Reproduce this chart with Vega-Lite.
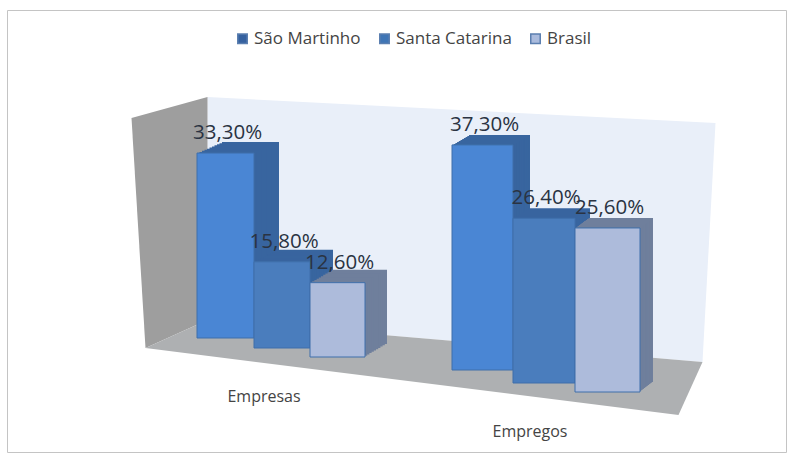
{
"$schema":"https://vega.github.io/schema/vega-lite/v6.json",
"width":779,"height":442,"autosize":"none",
"padding":{"left":7,"top":10,"right":24,"bottom":23},
"background":"white",
"view":{"stroke":"#c4c4c4","strokeWidth":1,"fill":"white"},
"params":[
{"name":"topo","value":[11.5,17,19,27,36,41]},
{"name":"fx","value":[-1,-3.5,-7,20,22.5,27]},
{"name":"larg","value":[57,56,55,61,62,65]},
{"name":"base","value":[0,10,19,32,45,54]},
{"name":"dx","value":[25,23,22,17,15,13]},
{"name":"dy","value":[11,12,13,10,10,10]},
{"name":"frente","value":["#4a86d4","#4a7dbd","#adbbdb","#4a86d4","#4a7dbd","#adbbdb"]},
{"name":"lado","value":["#38659f","#38659f","#6f7f9c","#38659f","#38659f","#6f7f9c"]}
],
"datasets":{"barras":[
{"id":0,"categoria":"Empresas","serie":"São Martinho","valor":33.3,"rotulo":"33,30%"},
{"id":1,"categoria":"Empresas","serie":"Santa Catarina","valor":15.8,"rotulo":"15,80%"},
{"id":2,"categoria":"Empresas","serie":"Brasil","valor":12.6,"rotulo":"12,60%"},
{"id":3,"categoria":"Empregos","serie":"São Martinho","valor":37.3,"rotulo":"37,30%"},
{"id":4,"categoria":"Empregos","serie":"Santa Catarina","valor":26.4,"rotulo":"26,40%"},
{"id":5,"categoria":"Empregos","serie":"Brasil","valor":25.6,"rotulo":"25,60%"}
]},
"data":{"name":"barras"},
"layer":[
{"data":{"values":[{"parte":"parede"}]},"mark":{"type":"point","filled":true,"opacity":1,"size":40000,"fill":"#e9eff9","shape":"M-.19 -2.41 L4.89 -2.15 L4.76 .24 L-.19 -.18 Z"},"encoding":{"x":{"datum":0,"type":"nominal","axis":null,"scale":{"domain":[0,1,2,"a",3,4,5],"range":[190,603],"paddingInner":0,"paddingOuter":0}},"y":{"datum":0,"type":"quantitative","axis":null,"scale":{"domain":[0,50],"range":[328,33],"nice":false,"zero":false}}}},
{"data":{"values":[{"parte":"lateral"}]},"mark":{"type":"point","filled":true,"opacity":1,"size":40000,"fill":"#9e9e9e","shape":"M-.95 -2.2 L-.19 -2.41 L-.19 -.18 L-.81 .1 Z"},"encoding":{"x":{"datum":0,"type":"nominal"},"y":{"datum":0,"type":"quantitative"}}},
{"data":{"values":[{"parte":"piso"}]},"mark":{"type":"point","filled":true,"opacity":1,"size":40000,"fill":"#aeb0b2","shape":"M-.81 .1 L-.19 -.18 L4.76 .24 L4.52 .77 Z"},"encoding":{"x":{"datum":0,"type":"nominal"},"y":{"datum":0,"type":"quantitative"}}},
{"encoding":{"x":{"field":"id","type":"nominal"},"y":{"field":"valor","type":"quantitative"},"y2":{"datum":0}},
"layer":[
{"mark":{"type":"bar","width":{"expr":"larg[datum.id]"},"fill":{"expr":"lado[datum.id]"},"yOffset":{"expr":"topo[datum.id]-dy[datum.id]"},"y2Offset":{"expr":"base[datum.id]-dy[datum.id]"},"xOffset":{"expr":"fx[datum.id]+dx[datum.id]"}}},
{"mark":{"type":"bar","width":{"expr":"larg[datum.id]"},"fill":{"expr":"lado[datum.id]"},"yOffset":{"expr":"topo[datum.id]-0.9*dy[datum.id]"},"y2Offset":{"expr":"base[datum.id]-0.9*dy[datum.id]"},"xOffset":{"expr":"fx[datum.id]+0.9*dx[datum.id]"}}},
{"mark":{"type":"bar","width":{"expr":"larg[datum.id]"},"fill":{"expr":"lado[datum.id]"},"yOffset":{"expr":"topo[datum.id]-0.8*dy[datum.id]"},"y2Offset":{"expr":"base[datum.id]-0.8*dy[datum.id]"},"xOffset":{"expr":"fx[datum.id]+0.8*dx[datum.id]"}}},
{"mark":{"type":"bar","width":{"expr":"larg[datum.id]"},"fill":{"expr":"lado[datum.id]"},"yOffset":{"expr":"topo[datum.id]-0.7*dy[datum.id]"},"y2Offset":{"expr":"base[datum.id]-0.7*dy[datum.id]"},"xOffset":{"expr":"fx[datum.id]+0.7*dx[datum.id]"}}},
{"mark":{"type":"bar","width":{"expr":"larg[datum.id]"},"fill":{"expr":"lado[datum.id]"},"yOffset":{"expr":"topo[datum.id]-0.6*dy[datum.id]"},"y2Offset":{"expr":"base[datum.id]-0.6*dy[datum.id]"},"xOffset":{"expr":"fx[datum.id]+0.6*dx[datum.id]"}}},
{"mark":{"type":"bar","width":{"expr":"larg[datum.id]"},"fill":{"expr":"lado[datum.id]"},"yOffset":{"expr":"topo[datum.id]-0.5*dy[datum.id]"},"y2Offset":{"expr":"base[datum.id]-0.5*dy[datum.id]"},"xOffset":{"expr":"fx[datum.id]+0.5*dx[datum.id]"}}},
{"mark":{"type":"bar","width":{"expr":"larg[datum.id]"},"fill":{"expr":"lado[datum.id]"},"yOffset":{"expr":"topo[datum.id]-0.4*dy[datum.id]"},"y2Offset":{"expr":"base[datum.id]-0.4*dy[datum.id]"},"xOffset":{"expr":"fx[datum.id]+0.4*dx[datum.id]"}}},
{"mark":{"type":"bar","width":{"expr":"larg[datum.id]"},"fill":{"expr":"lado[datum.id]"},"yOffset":{"expr":"topo[datum.id]-0.3*dy[datum.id]"},"y2Offset":{"expr":"base[datum.id]-0.3*dy[datum.id]"},"xOffset":{"expr":"fx[datum.id]+0.3*dx[datum.id]"}}},
{"mark":{"type":"bar","width":{"expr":"larg[datum.id]"},"fill":{"expr":"lado[datum.id]"},"yOffset":{"expr":"topo[datum.id]-0.2*dy[datum.id]"},"y2Offset":{"expr":"base[datum.id]-0.2*dy[datum.id]"},"xOffset":{"expr":"fx[datum.id]+0.2*dx[datum.id]"}}},
{"mark":{"type":"bar","width":{"expr":"larg[datum.id]"},"fill":{"expr":"lado[datum.id]"},"yOffset":{"expr":"topo[datum.id]-0.1*dy[datum.id]"},"y2Offset":{"expr":"base[datum.id]-0.1*dy[datum.id]"},"xOffset":{"expr":"fx[datum.id]+0.1*dx[datum.id]"}}},
{"mark":{"type":"bar","width":{"expr":"larg[datum.id]"},"yOffset":{"expr":"topo[datum.id]"},"y2Offset":{"expr":"base[datum.id]"},"xOffset":{"expr":"fx[datum.id]"}},"encoding":{"color":{"field":"serie","type":"nominal","scale":{"domain":["São Martinho","Santa Catarina","Brasil"],"range":["#35619f","#3f75b5","#aabbdd"]},"legend":{"orient":"none","legendX":227,"legendY":20,"direction":"horizontal","title":null,"symbolType":"square","symbolSize":90,"symbolOpacity":1,"labelFont":"Open Sans","labelFontSize":17,"labelOffset":3,"labelColor":"#444444","columnPadding":15,"symbolStrokeColor":"#5b7fb0"}}}},
{"mark":{"type":"bar","width":{"expr":"larg[datum.id]"},"fill":{"expr":"frente[datum.id]"},"stroke":"#3f6faa","strokeWidth":1,"yOffset":{"expr":"topo[datum.id]"},"y2Offset":{"expr":"base[datum.id]"},"xOffset":{"expr":"fx[datum.id]"}}}
]},
{"mark":{"type":"text","font":"Open Sans","fontSize":20.5,"color":"#2a3342","baseline":"middle","align":"center","yOffset":{"expr":"topo[datum.id]-20"},"xOffset":{"expr":"fx[datum.id]+2"}},"encoding":{"x":{"field":"id","type":"nominal"},"y":{"field":"valor","type":"quantitative"},"text":{"field":"rotulo"}}},
{"data":{"values":[{"id":1,"categoria":"Empresas"},{"id":4,"categoria":"Empregos"}]},"mark":{"type":"text","font":"Open Sans","fontSize":16,"color":"#444444","align":"center","baseline":"middle","xOffset":{"expr":"datum.id==1?-21.5:8.5"},"yOffset":{"expr":"datum.id==1?59:94"}},"encoding":{"x":{"field":"id","type":"nominal"},"y":{"datum":0,"type":"quantitative"},"text":{"field":"categoria"}}}
]
}
